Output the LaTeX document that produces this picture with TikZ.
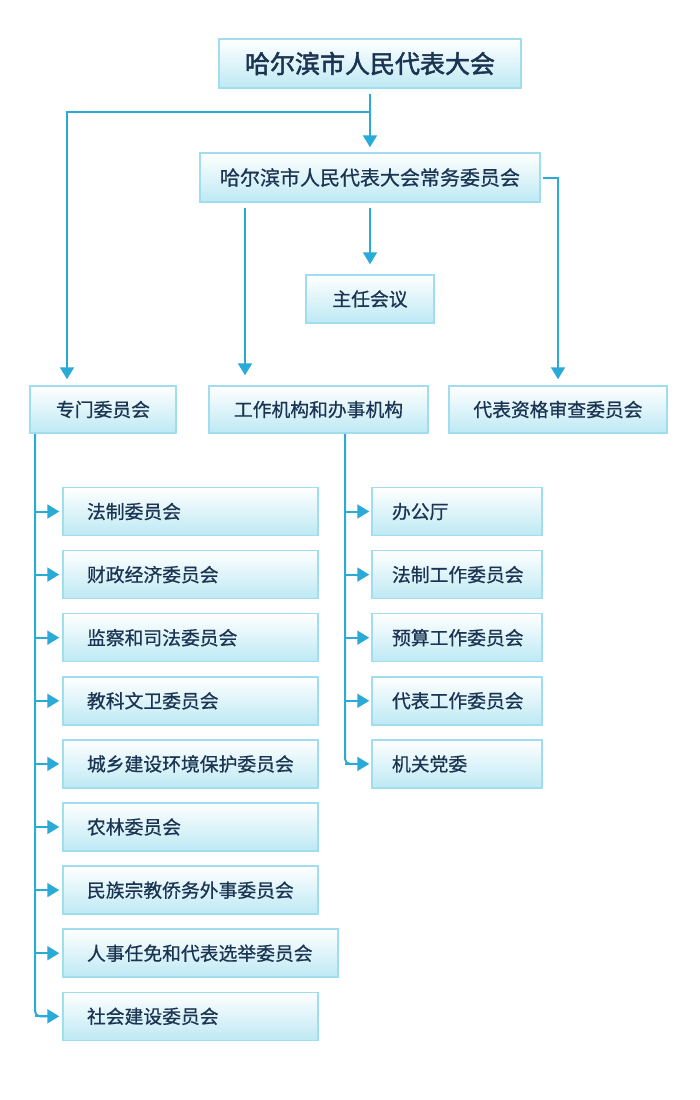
\documentclass[tikz,border=0pt]{standalone}
\usepackage{fontspec}
\setmainfont{Noto Sans CJK SC}[FakeBold=0.7]
\newfontfamily\topfont{Noto Sans CJK SC}[FakeBold=2]
\usetikzlibrary{arrows.meta}
\definecolor{lineblue}{HTML}{2AAAD6}
\definecolor{boxedge}{HTML}{A0DDEE}
\definecolor{boxbot}{HTML}{BDE9F4}
\definecolor{txt}{HTML}{1B3452}
\begin{document}
\begin{tikzpicture}[x=1pt,y=-1pt,
  box/.style={draw=boxedge, line width=1.5pt, top color=white, bottom color=boxbot,
    text=txt, inner sep=0pt, minimum height=48pt},
  fs/.style={font=\fontsize{#1}{#1}\selectfont},
  lbox/.style={box, fs=18.8pt, text width=207pt, inner xsep=24pt, align=left},
  lboxw/.style={box, fs=18.8pt, text width=227pt, inner xsep=24pt, align=left},
  rbox/.style={box, fs=18.8pt, text width=130pt, inner xsep=20pt, align=left},
  conn/.style={draw=lineblue, line width=2pt, -{Triangle[length=12pt,width=14pt]}},
  trunk/.style={draw=lineblue, line width=2pt, rounded corners=5pt}
]
\useasboundingbox (0,0) rectangle (700,1100);
\fill[white] (0,0) rectangle (700,1100);

% top levels
\node[box, font=\topfont\fontsize{25pt}{25pt}\selectfont, minimum width=302pt, minimum height=49pt] (top) at (370,63.5) {哈尔滨市人民代表大会};
\node[box, fs=20pt, minimum width=340pt, minimum height=49pt] (cw) at (370,177.5) {哈尔滨市人民代表大会常务委员会};
\node[box, fs=18.8pt, minimum width=128pt] (zr) at (370,299) {主任会议};

% third row
\node[box, fs=18.8pt, minimum width=146pt, minimum height=47pt] (zm) at (103,409.5) {专门委员会};
\node[box, fs=18.8pt, minimum width=219pt, minimum height=47pt] (gz) at (318.5,409.5) {工作机构和办事机构};
\node[box, fs=18.8pt, minimum width=218pt, minimum height=47pt] (db) at (558,409.5) {代表资格审查委员会};

% left list
\node[lbox]  (l1) at (190.5,511.5) {法制委员会};
\node[lbox]  (l2) at (190.5,574.6) {财政经济委员会};
\node[lbox]  (l3) at (190.5,637.7) {监察和司法委员会};
\node[lbox]  (l4) at (190.5,700.8) {教科文卫委员会};
\node[lbox]  (l5) at (190.5,763.9) {城乡建设环境保护委员会};
\node[lbox]  (l6) at (190.5,827.0) {农林委员会};
\node[lbox]  (l7) at (190.5,890.1) {民族宗教侨务外事委员会};
\node[lboxw] (l8) at (200.5,953.2) {人事任免和代表选举委员会};
\node[lbox]  (l9) at (190.5,1016.3) {社会建设委员会};

% right list
\node[rbox] (r1) at (457,511.5) {办公厅};
\node[rbox] (r2) at (457,574.6) {法制工作委员会};
\node[rbox] (r3) at (457,637.7) {预算工作委员会};
\node[rbox] (r4) at (457,700.8) {代表工作委员会};
\node[rbox] (r5) at (457,763.9) {机关党委};

% connectors from the top
\coordinate (br) at (370,112);
\coordinate (lb) at (67,0);
\coordinate (cx) at (245,0);
\draw[conn, shorten <=5pt, shorten >=5pt] (top.south) -- (cw.north);
\draw[conn, shorten >=6pt] (br) -| (zm.north -| lb);
\draw[conn, shorten <=5pt, shorten >=10pt] (cw.south) -- (zr.north);
\draw[conn, shorten <=5pt, shorten >=10pt] (cw.south -| cx) -- (gz.north -| cx);
\draw[conn, shorten <=2pt, shorten >=6pt] (cw.east) -| (db.north);

% left trunk
\coordinate (lx) at (35,0);
\draw[trunk] (zm.south -| lx) |- ([xshift=-15pt]l9.west);
\foreach \i in {1,...,9}{
  \draw[conn, shorten >=3pt] (l\i.west -| lx) -- (l\i.west);
}
% right trunk
\coordinate (rx) at (345,0);
\draw[trunk] (gz.south -| rx) |- ([xshift=-15pt]r5.west);
\foreach \i in {1,...,5}{
  \draw[conn, shorten >=2pt] (r\i.west -| rx) -- (r\i.west);
}
\end{tikzpicture}
\end{document}
